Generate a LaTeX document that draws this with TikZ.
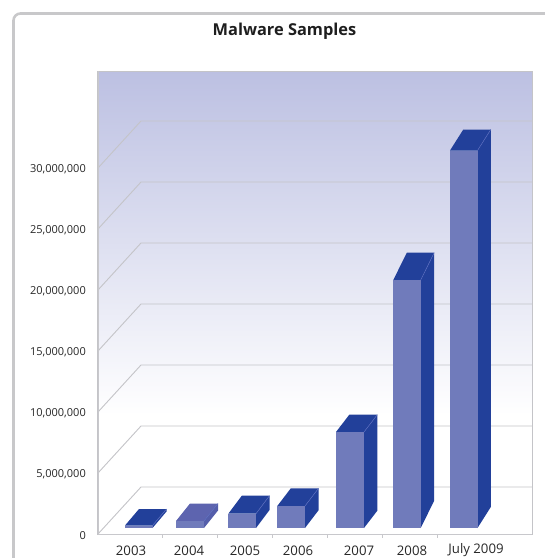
\documentclass[tikz,border=0pt]{standalone}
\usepackage{fontspec}
\setmainfont{Open Sans}
\definecolor{framegray}{RGB}{200,200,202}
\definecolor{gridgray}{RGB}{196,196,200}
\definecolor{axisgray}{RGB}{200,200,204}
\definecolor{bgtop}{RGB}{188,192,226}
\definecolor{barfront}{RGB}{112,123,187}
\definecolor{bardark}{RGB}{34,64,154}
\definecolor{baredge}{RGB}{90,108,190}
\definecolor{lighttop}{RGB}{93,100,175}
\definecolor{lightside}{RGB}{84,94,170}
\definecolor{labelgray}{RGB}{40,40,40}
\newcommand\mwbar[7]{%
  \fill[#7] (#2,#3) -- (#2+#4,#3-#5) -- (#2+#4,528-#5) -- (#2,528) -- cycle;
  \fill[#6] (#1,#3) -- (#1+#4,#3-#5) -- (#2+#4,#3-#5) -- (#2,#3) -- cycle;
  \fill[barfront] (#1,#3) rectangle (#2,528);
  \draw[baredge] (#2,#3) -- (#2+#4,#3-#5);
}
\begin{document}
\begin{tikzpicture}[x=1pt,y=-1pt,
  gridline/.style={draw=gridgray,line width=0.9pt},
  axisline/.style={draw=axisgray,line width=1pt},
  ylab/.style={anchor=east,inner sep=0pt,text=labelgray,font=\fontsize{11}{13}\selectfont},
  xlab/.style={inner sep=0pt,text=labelgray,font=\fontsize{13.2}{15}\selectfont},
  baredge/.style={draw=baredge,line width=0.5pt}]
\useasboundingbox (0,0) rectangle (545,558);
\clip (0,0) rectangle (545,558);
\fill[white] (0,0) rectangle (545,558);
% outer frame
\draw[framegray,line width=2.6pt,rounded corners=7pt] (13.5,600) -- (13.5,13.5) -- (600,13.5);
% title
\node[inner sep=0pt,text={rgb,255:red,30;green,30;blue,30},font=\fontsize{16.4}{19}\selectfont\bfseries] (title) at (284.5,31) {Malware Samples};
% plot background
\fill[white] (97,71) rectangle (532,534);
\shade[top color=bgtop,bottom color=white] (97,71) rectangle (532,415);
% gridlines
\foreach \k in {0,...,6}{
  \draw[gridline] (98,534-61*\k) -- (141,487-61*\k) -- (532,487-61*\k);
}
% plot border and axes
\draw[draw=gridgray,line width=1pt] (97,71) rectangle (532,534);
\draw[axisline] (98,71) -- (98,534) -- (532,534);
\foreach \t in {0,...,5}{
  \draw[axisline] (162.7+55*\t,534) -- (162.7+55*\t,537.5);
}
% bars
\mwbar{125}{152.5}{525.5}{14}{16.5}{bardark}{bardark}
\mwbar{176}{204}{521}{14}{17.5}{lighttop}{lightside}
\mwbar{228.3}{256}{513.7}{13.5}{18}{bardark}{bardark}
\mwbar{277.3}{305}{506}{13.5}{17.7}{bardark}{bardark}
\mwbar{336}{364}{432}{13.3}{17.3}{bardark}{bardark}
\mwbar{393.3}{420.7}{280}{13.5}{27.3}{bardark}{bardark}
\mwbar{450}{477.5}{150.5}{13.3}{21}{bardark}{bardark}
% y labels
\node[ylab] (y0) at (86,535.5) {0};
\node[ylab] (y1) at (86,474.5) {5,000,000};
\node[ylab] (y2) at (86,413.5) {10,000,000};
\node[ylab] (y3) at (86,352.5) {15,000,000};
\node[ylab] (y4) at (86,291.5) {20,000,000};
\node[ylab] (y5) at (86,230.5) {25,000,000};
\node[ylab] (y6) at (86,169.5) {30,000,000};
% x labels
\node[xlab] (x1) at (131,550.5) {2003};
\node[xlab] (x2) at (189,550.5) {2004};
\node[xlab] (x3) at (245,550.5) {2005};
\node[xlab] (x4) at (298,550.5) {2006};
\node[xlab] (x5) at (359,550.5) {2007};
\node[xlab] (x6) at (412,550.5) {2008};
\node[xlab] (x7) at (476,550.5) {July 2009};
\end{tikzpicture}
\end{document}
